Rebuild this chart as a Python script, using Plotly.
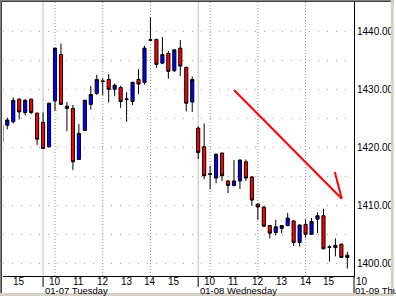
import plotly.graph_objects as go

# ---- data (15-minute candles, index 0 = 01-06 14:15) ----
opens = [1423.8, 1423.8, 1424.4, 1428.3, 1426.0, 1428.3, 1425.9, 1424.3, 1420.1, 1428.0,
         1436.0, 1427.1, 1426.7, 1417.9, 1422.9, 1427.4, 1429.3, 1431.45, 1431.7, 1430.0,
         1430.3, 1428.35, 1427.9, 1431.7, 1431.2, 1438.55, 1438.6, 1434.5, 1436.2, 1433.2,
         1437.1, 1433.8, 1427.8, 1423.3, 1420.1, 1415.45, 1414.7, 1419.0, 1414.2, 1413.4,
         1414.2, 1417.5, 1414.9, 1410.2, 1409.7, 1406.5, 1405.3, 1406.0, 1406.5, 1407.3,
         1403.6, 1406.7, 1405.0, 1407.6, 1408.2, 1402.85, 1402.7, 1403.3, 1401.4]
highs = [1424.2, 1425.1, 1428.6, 1428.4, 1428.3, 1428.4, 1425.9, 1426.0, 1427.7, 1437.1,
         1437.9, 1427.8, 1427.3, 1424.0, 1428.2, 1430.6, 1432.5, 1431.9, 1432.6, 1431.0,
         1430.6, 1429.5, 1431.3, 1433.5, 1437.5, 1442.4, 1438.7, 1439.0, 1436.6, 1436.9,
         1438.5, 1433.8, 1432.2, 1423.6, 1424.1, 1416.8, 1418.9, 1419.1, 1414.3, 1417.8,
         1417.9, 1417.9, 1415.0, 1410.3, 1409.8, 1406.6, 1407.5, 1406.6, 1408.7, 1407.4,
         1406.7, 1407.6, 1407.8, 1408.8, 1409.4, 1403.1, 1404.3, 1403.4, 1402.0]
lows = [1420.6, 1423.1, 1424.1, 1424.8, 1425.5, 1425.7, 1420.4, 1419.7, 1420.0, 1426.3,
        1427.3, 1422.8, 1416.1, 1417.8, 1422.8, 1426.5, 1429.0, 1429.0, 1427.7, 1428.8,
        1426.8, 1424.4, 1427.3, 1429.2, 1430.8, 1438.4, 1433.7, 1434.4, 1431.8, 1433.0,
        1432.3, 1426.2, 1426.1, 1418.0, 1414.5, 1412.8, 1413.8, 1414.2, 1412.1, 1413.3,
        1412.8, 1414.2, 1409.9, 1407.5, 1406.3, 1404.3, 1404.8, 1405.2, 1406.4, 1403.0,
        1402.9, 1404.4, 1404.9, 1405.2, 1402.4, 1400.3, 1401.2, 1400.9, 1399.1]
closes = [1420.9, 1424.7, 1428.1, 1426.1, 1428.1, 1426.0, 1421.4, 1419.8, 1427.6, 1437.1,
          1427.4, 1426.7, 1417.5, 1422.4, 1428.1, 1429.1, 1431.7, 1431.35, 1430.0, 1430.7,
          1427.9, 1428.25, 1431.2, 1430.9, 1437.1, 1438.45, 1434.3, 1436.0, 1433.1, 1436.8,
          1434.0, 1427.6, 1431.7, 1419.1, 1415.1, 1415.35, 1418.8, 1415.1, 1413.4, 1414.2,
          1417.8, 1414.7, 1410.9, 1409.7, 1406.4, 1405.2, 1406.3, 1406.5, 1407.8, 1403.6,
          1406.6, 1405.0, 1407.2, 1408.2, 1402.5, 1402.75, 1403.1, 1401.0, 1401.0]

hour_pos = [3, 9, 13, 17, 21, 25, 29, 35, 39, 43, 47, 51, 55]
hour_text = ["15", "10", "11", "12", "13", "14", "15", "10", "11", "12", "13", "14", "15"]
grid_pos = [9, 17, 25, 35, 43, 51]
day_sep = [7, 33]
day_labels = ["01-07 Tuesday", "01-08 Wednesday", "01-09 Thursday"]
y_ticks = [1400, 1405, 1410, 1415, 1420, 1425, 1430, 1435, 1440, 1445]
y_text = ["1400.00", "", "1410.00", "", "1420.00", "", "1430.00", "", "1440.00", ""]
trend_line = [(39.0, 1429.88), (57.07, 1411.14)]
trend_barb = [(55.9, 1415.74), (57.07, 1411.14)]

x = list(range(len(opens)))

W, H = 396, 296
ML, MR, MT, MB = 3, 40, 2, 20
PW, PH = W - ML - MR, H - MT - MB


def px(v):
    return (v - ML) / PW


def py(v):
    return (H - MB - v) / PH


FONT = "Liberation Sans"

fig = go.Figure(go.Candlestick(
    x=x, open=opens, high=highs, low=lows, close=closes,
    increasing=dict(fillcolor="#0000ff", line=dict(color="#000000", width=1)),
    decreasing=dict(fillcolor="#ff0000", line=dict(color="#000000", width=1)),
    whiskerwidth=0, showlegend=False, hoverinfo="skip",
))

shapes = []
for g in grid_pos:
    shapes.append(dict(type="line", xref="x", yref="paper", x0=g, x1=g, y0=0, y1=1,
                       line=dict(color="#909090", width=1, dash="1px,2px"), layer="below"))
for d in day_sep:
    shapes.append(dict(type="line", xref="x", yref="paper", x0=d, x1=d, y0=0, y1=1,
                       line=dict(color="#c0c0c0", width=1), layer="below"))
    shapes.append(dict(type="line", xref="x", yref="paper", x0=d, x1=d, y0=py(276), y1=py(287),
                       line=dict(color="#000000", width=1)))
# right axis line extends to the bottom
shapes.append(dict(type="line", xref="paper", yref="paper", x0=1, x1=1, y0=py(276), y1=py(296),
                   line=dict(color="#000000", width=1)))
# trend arrow
for seg in (trend_line, trend_barb):
    shapes.append(dict(type="line", xref="x", yref="y", x0=seg[0][0], y0=seg[0][1],
                       x1=seg[1][0], y1=seg[1][1], line=dict(color="#ff0000", width=2)))
# frame
shapes += [
    dict(type="line", xref="paper", yref="paper", x0=px(0), x1=px(396), y0=py(0.5), y1=py(0.5),
         line=dict(color="#808080", width=1)),
    dict(type="line", xref="paper", yref="paper", x0=px(1), x1=px(396), y0=py(1.5), y1=py(1.5),
         line=dict(color="#404040", width=1)),
    dict(type="line", xref="paper", yref="paper", x0=px(0.5), x1=px(0.5), y0=py(0), y1=py(296),
         line=dict(color="#808080", width=1)),
    dict(type="line", xref="paper", yref="paper", x0=px(1.5), x1=px(1.5), y0=py(1), y1=py(295),
         line=dict(color="#404040", width=1)),
    dict(type="line", xref="paper", yref="paper", x0=px(0), x1=px(396), y0=py(294.5), y1=py(294.5),
         line=dict(color="#d4d0c8", width=3)),
    dict(type="line", xref="paper", yref="paper", x0=px(394.5), x1=px(394.5), y0=py(0), y1=py(296),
         line=dict(color="#d4d0c8", width=3)),
]

annotations = []
for hp, ht in zip(hour_pos, hour_text):
    annotations.append(dict(text=ht, xref="x", yref="paper", x=hp, y=py(281),
                            xanchor="center", yanchor="middle", showarrow=False,
                            font=dict(family=FONT, size=10, color="#000000")))
for d, lbl in zip(day_sep + [59], day_labels):
    annotations.append(dict(text=lbl, xref="x", yref="paper", x=d - 0.05, y=py(290),
                            xanchor="left", yanchor="middle", showarrow=False,
                            font=dict(family=FONT, size=9.5, color="#000000")))
annotations.append(dict(text="10", xref="paper", yref="paper", x=px(355.5), y=py(281),
                        xanchor="left", yanchor="middle", showarrow=False,
                        font=dict(family=FONT, size=10, color="#000000")))

fig.update_layout(
    width=W, height=H, autosize=False,
    margin=dict(l=ML, r=MR, t=MT, b=MB, pad=0),
    paper_bgcolor="#ffffff", plot_bgcolor="#ffffff",
    font=dict(family=FONT, size=10, color="#000000"),
    shapes=shapes, annotations=annotations,
    boxgap=0.25,
    xaxis=dict(
        range=[(ML - 1.3) / 6, (ML + PW - 1.3) / 6],
        showticklabels=False, ticks="", showgrid=False, zeroline=False,
        showline=True, linecolor="#000000", linewidth=1,
        rangeslider=dict(visible=False),
    ),
    yaxis=dict(
        range=[1430 - (276 - 89.3) / 5.8, 1430 + (89.3 - 2) / 5.8],
        side="right", tickvals=y_ticks, ticktext=y_text, ticks="",
        showgrid=True, gridcolor="#a0a0a0", griddash="1px,8px", gridwidth=1,
        zeroline=False, showline=True, linecolor="#000000", linewidth=1,
        tickfont=dict(size=10),
    ),
)

fig.write_html("out.html")
